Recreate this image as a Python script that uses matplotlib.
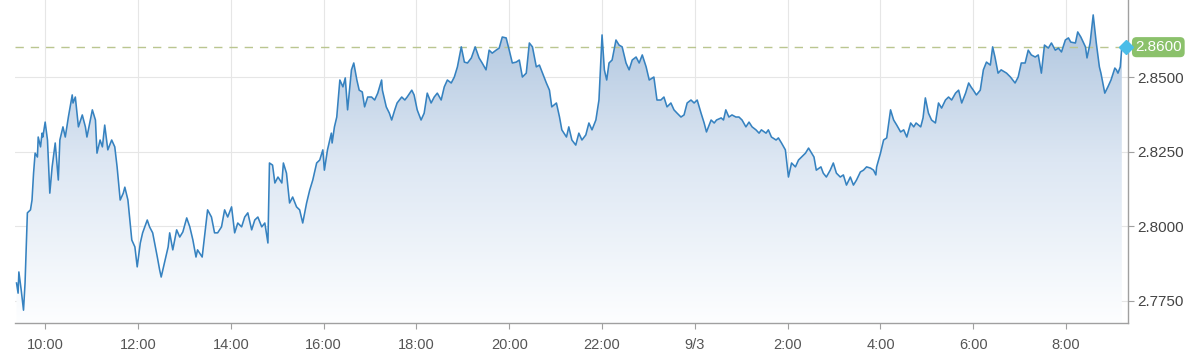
import numpy as np
import matplotlib
matplotlib.use("Agg")
import matplotlib.pyplot as plt
from matplotlib.colors import LinearSegmentedColormap

plt.rcParams['font.family'] = ['Liberation Sans', 'DejaVu Sans']

# time in minutes since 9/2 00:00
minutes = [
    563, 565, 566, 569, 572, 574, 577, 581, 583, 585, 587, 590, 591, 594, 596, 597,
    600, 603, 606, 609, 613, 617, 619, 623, 626, 630, 635, 636, 639, 643, 648, 652,
    654, 661, 665, 667, 671, 674, 677, 681, 686, 690, 693, 697, 701, 703, 707, 712,
    716, 719, 723, 726, 732, 735, 739, 745, 748, 750, 755, 759, 761, 765, 770, 774,
    778, 783, 787, 791, 795, 797, 803, 806, 810, 815, 819, 823, 828, 832, 836, 841,
    845, 849, 854, 858, 862, 867, 871, 875, 880, 884, 888, 890, 894, 897, 901, 906,
    908, 912, 916, 920, 925, 929, 933, 938, 942, 946, 951, 955, 959, 961, 965, 970,
    971, 974, 977, 981, 985, 988, 991, 996, 999, 1003, 1006, 1010, 1013, 1017, 1022, 1026,
    1030, 1035, 1036, 1041, 1045, 1048, 1052, 1055, 1061, 1065, 1068, 1074, 1077, 1081, 1086, 1090,
    1094, 1099, 1103, 1107, 1112, 1116, 1120, 1125, 1129, 1133, 1138, 1142, 1146, 1151, 1156, 1161,
    1165, 1170, 1174, 1178, 1183, 1187, 1191, 1196, 1200, 1204, 1209, 1213, 1217, 1222, 1226, 1230,
    1235, 1239, 1243, 1248, 1252, 1255, 1261, 1265, 1268, 1274, 1277, 1281, 1286, 1290, 1294, 1299,
    1303, 1307, 1312, 1316, 1320, 1323, 1326, 1329, 1333, 1338, 1342, 1346, 1351, 1355, 1359, 1364,
    1368, 1372, 1377, 1381, 1387, 1391, 1396, 1400, 1404, 1409, 1413, 1417, 1422, 1426, 1430, 1435,
    1439, 1443, 1448, 1452, 1455, 1461, 1465, 1468, 1474, 1477, 1480, 1484, 1488, 1493, 1497, 1501,
    1506, 1510, 1514, 1519, 1523, 1526, 1532, 1535, 1539, 1545, 1548, 1552, 1557, 1561, 1565, 1570,
    1574, 1578, 1583, 1587, 1594, 1597, 1603, 1606, 1610, 1615, 1619, 1623, 1628, 1632, 1636, 1641,
    1645, 1649, 1654, 1658, 1662, 1667, 1671, 1674, 1675, 1680, 1684, 1688, 1693, 1697, 1701, 1706,
    1710, 1714, 1719, 1723, 1726, 1732, 1735, 1738, 1742, 1746, 1751, 1755, 1759, 1764, 1768, 1772,
    1777, 1781, 1785, 1790, 1794, 1797, 1800, 1804, 1809, 1813, 1817, 1822, 1825, 1828, 1832, 1836,
    1843, 1848, 1854, 1858, 1862, 1867, 1871, 1875, 1880, 1884, 1888, 1892, 1897, 1901, 1906, 1910,
    1914, 1919, 1923, 1926, 1932, 1935, 1939, 1945, 1947, 1951, 1955, 1959, 1963, 1965, 1970, 1974,
    1978, 1983, 1985, 1987, 1990, 1992,
]

prices = [
    2.7810, 2.7776, 2.7847, 2.7787, 2.7719, 2.7810, 2.8045, 2.8055, 2.8088, 2.8178, 2.8245, 2.8232, 2.8299, 2.8266, 2.8312, 2.8299,
    2.8349, 2.8289, 2.8111, 2.8199, 2.8279, 2.8155, 2.8289, 2.8333, 2.8299, 2.8366, 2.8440, 2.8413, 2.8433, 2.8333, 2.8373, 2.8333,
    2.8299, 2.8390, 2.8356, 2.8245, 2.8289, 2.8266, 2.8339, 2.8256, 2.8289, 2.8266, 2.8199, 2.8088, 2.8111, 2.8131, 2.8088, 2.7954,
    2.7931, 2.7864, 2.7944, 2.7978, 2.8021, 2.7998, 2.7978, 2.7897, 2.7854, 2.7830, 2.7887, 2.7931, 2.7978, 2.7921, 2.7988, 2.7964,
    2.7981, 2.8028, 2.7998, 2.7954, 2.7897, 2.7921, 2.7897, 2.7964, 2.8055, 2.8031, 2.7978, 2.7978, 2.7998, 2.8055, 2.8031, 2.8065,
    2.7978, 2.8011, 2.7998, 2.8031, 2.8045, 2.7988, 2.8021, 2.8031, 2.7998, 2.8011, 2.7944, 2.8212, 2.8205, 2.8145, 2.8165, 2.8145,
    2.8212, 2.8178, 2.8078, 2.8098, 2.8065, 2.8055, 2.8011, 2.8078, 2.8121, 2.8155, 2.8212, 2.8222, 2.8256, 2.8188, 2.8256, 2.8312,
    2.8279, 2.8333, 2.8366, 2.8490, 2.8467, 2.8497, 2.8390, 2.8524, 2.8547, 2.8490, 2.8456, 2.8450, 2.8400, 2.8433, 2.8433, 2.8423,
    2.8446, 2.8490, 2.8456, 2.8400, 2.8379, 2.8356, 2.8390, 2.8413, 2.8433, 2.8423, 2.8433, 2.8456, 2.8440, 2.8390, 2.8356, 2.8379,
    2.8446, 2.8413, 2.8433, 2.8446, 2.8423, 2.8467, 2.8490, 2.8480, 2.8500, 2.8534, 2.8601, 2.8550, 2.8547, 2.8564, 2.8601, 2.8564,
    2.8547, 2.8524, 2.8590, 2.8580, 2.8590, 2.8597, 2.8634, 2.8631, 2.8590, 2.8547, 2.8550, 2.8557, 2.8500, 2.8513, 2.8614, 2.8601,
    2.8534, 2.8540, 2.8513, 2.8480, 2.8456, 2.8400, 2.8413, 2.8366, 2.8323, 2.8299, 2.8333, 2.8289, 2.8272, 2.8312, 2.8289, 2.8306,
    2.8346, 2.8323, 2.8356, 2.8423, 2.8641, 2.8524, 2.8490, 2.8547, 2.8557, 2.8624, 2.8607, 2.8601, 2.8547, 2.8524, 2.8557, 2.8567,
    2.8547, 2.8574, 2.8534, 2.8490, 2.8500, 2.8423, 2.8423, 2.8433, 2.8400, 2.8413, 2.8390, 2.8379, 2.8366, 2.8373, 2.8413, 2.8423,
    2.8413, 2.8423, 2.8379, 2.8346, 2.8316, 2.8356, 2.8346, 2.8356, 2.8363, 2.8356, 2.8390, 2.8366, 2.8373, 2.8366, 2.8366, 2.8356,
    2.8333, 2.8349, 2.8333, 2.8323, 2.8312, 2.8323, 2.8312, 2.8323, 2.8299, 2.8289, 2.8296, 2.8279, 2.8256, 2.8165, 2.8212, 2.8199,
    2.8222, 2.8232, 2.8245, 2.8262, 2.8232, 2.8188, 2.8199, 2.8178, 2.8165, 2.8188, 2.8212, 2.8178, 2.8165, 2.8172, 2.8138, 2.8165,
    2.8138, 2.8155, 2.8182, 2.8188, 2.8199, 2.8195, 2.8188, 2.8172, 2.8199, 2.8245, 2.8289, 2.8296, 2.8390, 2.8356, 2.8339, 2.8316,
    2.8323, 2.8299, 2.8346, 2.8333, 2.8346, 2.8333, 2.8363, 2.8430, 2.8379, 2.8356, 2.8346, 2.8413, 2.8396, 2.8423, 2.8433, 2.8423,
    2.8446, 2.8456, 2.8413, 2.8446, 2.8480, 2.8467, 2.8456, 2.8440, 2.8456, 2.8524, 2.8550, 2.8540, 2.8601, 2.8567, 2.8513, 2.8524,
    2.8513, 2.8500, 2.8480, 2.8500, 2.8547, 2.8547, 2.8590, 2.8574, 2.8567, 2.8574, 2.8513, 2.8607, 2.8597, 2.8614, 2.8590, 2.8597,
    2.8584, 2.8624, 2.8631, 2.8617, 2.8614, 2.8651, 2.8634, 2.8601, 2.8564, 2.8614, 2.8708, 2.8614, 2.8534, 2.8513, 2.8446, 2.8467,
    2.8490, 2.8530, 2.8524, 2.8513, 2.8534, 2.8600,
]

tick_minutes = [600, 720, 840, 960, 1080, 1200, 1320, 1440, 1560, 1680, 1800, 1920]
tick_labels = ["10:00", "12:00", "14:00", "16:00", "18:00", "20:00", "22:00",
               "9/3", "2:00", "4:00", "6:00", "8:00"]
y_ticks = [2.7750, 2.8000, 2.8250, 2.8500]
last_price = 2.8600

W, H = 1200, 355
fig = plt.figure(figsize=(W / 100, H / 100), dpi=100)
ax = fig.add_axes([15 / W, 1 - 323 / H, (1128 - 15) / W, 323 / H])
x0, x1 = 561, 2000
y0, y1 = 2.7676, 2.8758
ax.set_xlim(x0, x1)
ax.set_ylim(y0, y1)

# gradient area
poly = ax.fill_between(minutes, prices, y0, facecolor='none', lw=0)
cmap = LinearSegmentedColormap.from_list('g', ['#fdfeff', '#dde7f3', '#a9c1dc'])
grad = np.linspace(0, 1, 256).reshape(-1, 1)
im = ax.imshow(grad, extent=[x0, x1, y0, y1], origin='lower', aspect='auto',
               cmap=cmap, zorder=1, interpolation='bilinear')
im.set_clip_path(poly.get_paths()[0], transform=ax.transData)

ax.plot(minutes, prices, color='#3682c0', lw=1.15, zorder=3)

ax.axhline(last_price, color='#bac690', lw=1, dashes=(6, 5), zorder=2)

# grid and axes
ax.set_xticks(tick_minutes)
ax.set_xticklabels(tick_labels)
ax.set_yticks(y_ticks)
ax.set_yticklabels([f"{v:.4f}" for v in y_ticks])
ax.yaxis.tick_right()
ax.grid(True, color='#e6e6e6', lw=0.8, zorder=0)
ax.set_axisbelow(True)
for s in ['left', 'top']:
    ax.spines[s].set_visible(False)
for s in ['right', 'bottom']:
    ax.spines[s].set_color('#a0a0a0')
    ax.spines[s].set_linewidth(1.0)
ax.tick_params(axis='x', length=4, color='#a0a0a0', labelcolor='#555555',
               labelsize=10.5, pad=7)
ax.tick_params(axis='y', length=4, color='#a0a0a0', labelcolor='#444444',
               labelsize=11, pad=3)

# last price label
ax.annotate(f"{last_price:.4f}", xy=(1, last_price), xycoords=('axes fraction', 'data'),
            xytext=(7, 0), textcoords='offset pixels', va='center', ha='left',
            color='white', fontsize=11,
            bbox=dict(boxstyle='round,pad=0.2,rounding_size=0.3', fc='#8bc16b', ec='none'),
            zorder=6, annotation_clip=False)
ax.plot([x1 - 3], [last_price], marker='D', ms=7, color='#4bbde8', clip_on=False, zorder=7)

fig.savefig('out.png', dpi=100)
